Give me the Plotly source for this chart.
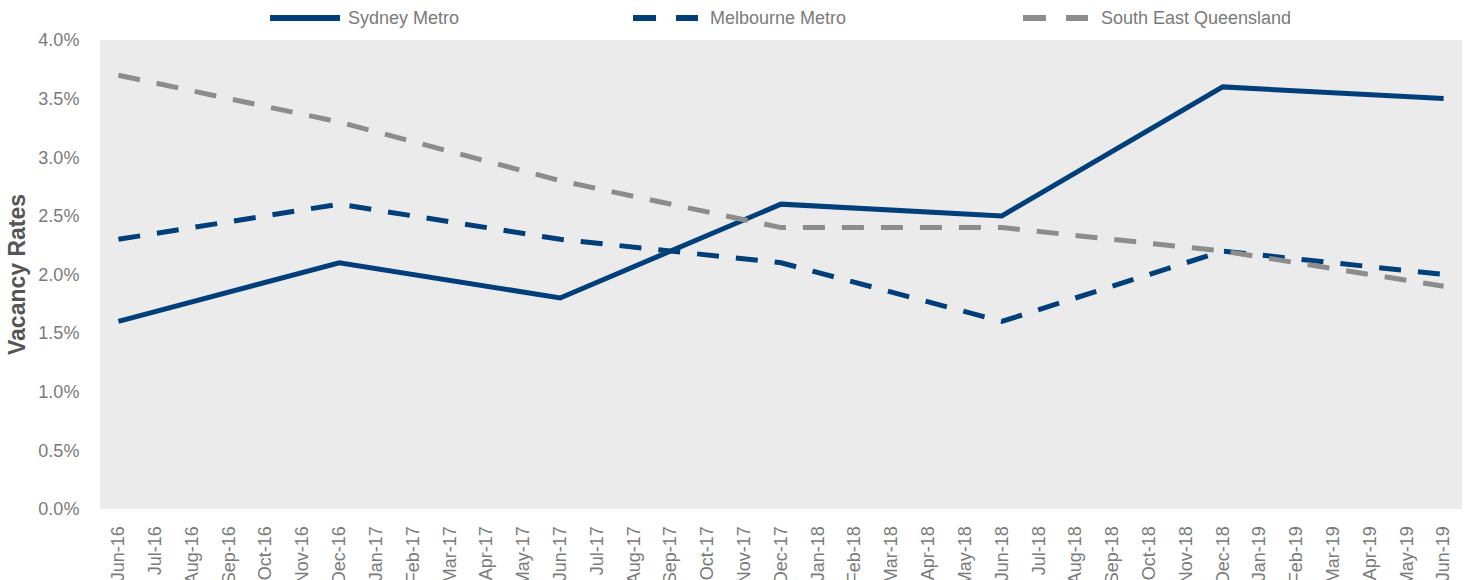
import plotly.graph_objects as go

months = ["Jun-16","Jul-16","Aug-16","Sep-16","Oct-16","Nov-16","Dec-16","Jan-17","Feb-17","Mar-17","Apr-17","May-17",
          "Jun-17","Jul-17","Aug-17","Sep-17","Oct-17","Nov-17","Dec-17","Jan-18","Feb-18","Mar-18","Apr-18","May-18",
          "Jun-18","Jul-18","Aug-18","Sep-18","Oct-18","Nov-18","Dec-18","Jan-19","Feb-19","Mar-19","Apr-19","May-19","Jun-19"]
obs_months = ["Jun-16","Dec-16","Jun-17","Dec-17","Jun-18","Dec-18","Jun-19"]
sydney = [0.016, 0.021, 0.018, 0.026, 0.025, 0.036, 0.035]
melbourne = [0.023, 0.026, 0.023, 0.021, 0.016, 0.022, 0.020]
seq = [0.037, 0.033, 0.028, 0.024, 0.024, 0.022, 0.019]
series_names = ["Sydney Metro", "Melbourne Metro", "South East Queensland"]

navy = "#003f7a"
grey = "#8c8c8c"
text_col = "#7a7a7a"
dash = "22px,17px"

W, H = 1469, 580
ML, MR, MT, MB = 100, 7, 40, 71
PW = W - ML - MR
PH = H - MT - MB

def px_x(p):
    return (p - ML) / PW

def px_y(p):
    return 1 + (MT - p) / PH

fig = go.Figure()
fig.add_trace(go.Scatter(x=obs_months, y=sydney, name=series_names[0], mode="lines",
                         line=dict(color=navy, width=5)))
fig.add_trace(go.Scatter(x=obs_months, y=melbourne, name=series_names[1], mode="lines",
                         line=dict(color=navy, width=5, dash=dash)))
fig.add_trace(go.Scatter(x=obs_months, y=seq, name=series_names[2], mode="lines",
                         line=dict(color=grey, width=5, dash=dash)))

font = "Liberation Sans, Arial, sans-serif"

# manual legend
shapes = []
annotations = []
ly = px_y(18)
legend_items = [
    (series_names[0], navy, [(270, 340)], 346),
    (series_names[1], navy, [(633, 656), (676, 698)], 708),
    (series_names[2], grey, [(1023, 1046), (1066, 1088)], 1099),
]
for name, col, segs, tx in legend_items:
    for a, b in segs:
        shapes.append(dict(type="line", xref="paper", yref="paper", x0=px_x(a), x1=px_x(b),
                           y0=ly, y1=ly, line=dict(color=col, width=6)))
    annotations.append(dict(text=name, xref="paper", yref="paper", x=px_x(tx), y=ly,
                            xanchor="left", yanchor="middle", showarrow=False,
                            font=dict(family=font, size=18, color=text_col)))
annotations.append(dict(text="<b>Vacancy Rates</b>", xref="paper", yref="paper",
                        x=px_x(17), y=px_y(275), xanchor="center", yanchor="middle",
                        textangle=-90, showarrow=False,
                        font=dict(family=font, size=23, color="#555555")))

fig.update_layout(
    width=W, height=H,
    margin=dict(l=ML, r=MR, t=MT, b=MB),
    paper_bgcolor="white", plot_bgcolor="#ebebeb",
    font=dict(family=font, size=18, color=text_col),
    showlegend=False,
    shapes=shapes, annotations=annotations,
    xaxis=dict(type="category", categoryorder="array", categoryarray=months,
               range=[-0.5, len(months) - 0.5], tickangle=-90, showgrid=False,
               showline=False, zeroline=False, ticks="outside", ticklen=9,
               tickcolor="rgba(0,0,0,0)", automargin=False,
               tickfont=dict(family=font, size=18, color=text_col)),
    yaxis=dict(range=[0, 0.04], tickvals=[i * 0.005 for i in range(9)], tickformat=".1%",
               showgrid=False, zeroline=False, showline=False, ticks="outside", ticklen=16,
               tickcolor="rgba(0,0,0,0)", automargin=False,
               tickfont=dict(family=font, size=18, color=text_col)),
)
fig.write_html("out.html")
